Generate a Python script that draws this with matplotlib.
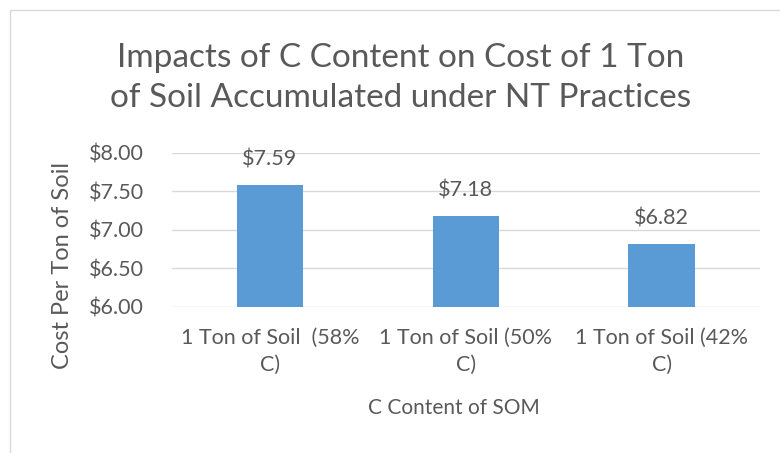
import matplotlib.pyplot as plt
from matplotlib.patches import Rectangle

categories = ["1 Ton of Soil  (58%\nC)", "1 Ton of Soil (50%\nC)", "1 Ton of Soil (42%\nC)"]
costs = [7.59, 7.18, 6.82]
yticks = [6.00, 6.50, 7.00, 7.50, 8.00]

plt.rcParams['font.family'] = ['Lato', 'DejaVu Sans']
grey = "#595959"

fig = plt.figure(figsize=(7.8, 4.53), dpi=100)
ax = fig.add_axes([0.2205, 0.3223, 0.7535, 0.34])

x = range(len(categories))
ax.bar(x, [c - 6 for c in costs], bottom=6, width=0.34, color="#5b9bd5", zorder=3)
for i, c in zip(x, costs):
    ax.text(i, c + 0.33, "${:.2f}".format(c), ha="center", va="center",
            fontsize=15.5, color=grey)

ax.set_xlim(-0.5, 2.5)
ax.set_ylim(6, 8)
ax.set_yticks(yticks)
ax.set_yticklabels(["${:.2f}".format(v) for v in yticks], fontsize=15.5, color=grey)
ax.set_xticks(list(x))
ax.set_xticklabels(categories, fontsize=15.5, color=grey, linespacing=1.45)
ax.tick_params(length=0)
ax.tick_params(axis="y", pad=20)
ax.tick_params(axis="x", pad=15)
ax.grid(axis="y", color="#d9d9d9", linewidth=1, zorder=0)
for s in ax.spines.values():
    s.set_visible(False)

fig.text(0.513, 0.828, "Impacts of C Content on Cost of 1 Ton\nof Soil Accumulated under NT Practices",
         ha="center", va="center", fontsize=24, color=grey, linespacing=1.45)
fig.text(0.08, 0.413, "Cost Per Ton of Soil", rotation=90, ha="center", va="center",
         fontsize=17, color=grey)
fig.text(0.582, 0.10, "C Content of SOM", ha="center", va="center", fontsize=15, color=grey)

# chart border
fig.add_artist(Rectangle((0.013, -0.1), 1.1, 1.078, transform=fig.transFigure,
                         fill=False, edgecolor="#d9d9d9", linewidth=1))

fig.savefig("out.png", dpi=100)
